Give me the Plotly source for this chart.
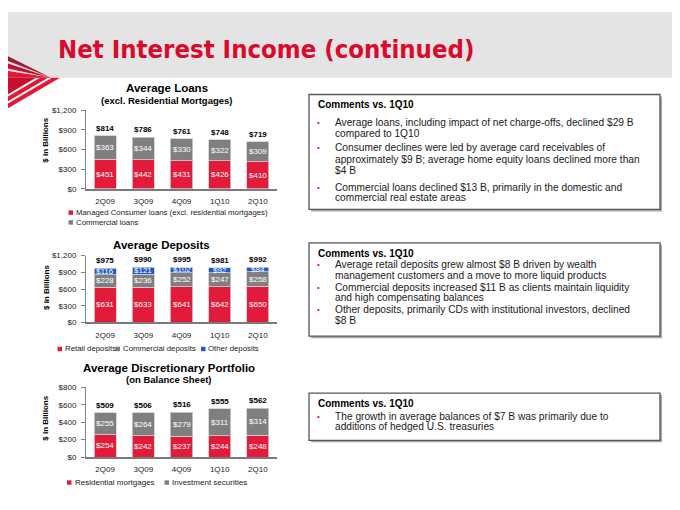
import plotly.graph_objects as go

# ---------------- data ----------------
quarters = ["2Q09", "3Q09", "4Q09", "1Q10", "2Q10"]

loans_consumer = [451, 442, 431, 426, 410]
loans_commercial = [363, 344, 330, 322, 309]
loans_total = [814, 786, 761, 748, 719]

dep_retail = [631, 633, 641, 642, 650]
dep_commercial = [228, 236, 252, 247, 258]
dep_other = [116, 121, 102, 92, 84]
dep_total = [975, 990, 995, 981, 992]

port_resid = [254, 242, 237, 244, 248]
port_invest = [255, 264, 279, 311, 314]
port_total = [509, 506, 516, 555, 562]

ticks_1200 = [0, 300, 600, 900, 1200]
ticklabels_1200 = ["$0", "$300", "$600", "$900", "$1,200"]
ticks_800 = [0, 200, 400, 600, 800]
ticklabels_800 = ["$0", "$200", "$400", "$600", "$800"]

loans_series = ["Managed Consumer loans (excl. residential mortgages)", "Commercial loans"]
dep_series = ["Retail deposits", "Commercial deposits", "Other deposits"]
port_series = ["Residential mortgages", "Investment securities"]

comments_1 = [
    ["Average loans, including impact of net charge-offs, declined $29 B", "compared to 1Q10"],
    ["Consumer declines were led by average card receivables of",
     "approximately $9 B; average home equity loans declined more than", "$4 B"],
    ["Commercial loans declined $13 B, primarily in the domestic and", "commercial real estate areas"],
]
comments_2 = [
    ["Average retail deposits grew almost $8 B driven by wealth",
     "management customers and a move to more liquid products"],
    ["Commercial deposits increased $11 B as clients maintain liquidity", "and high compensating balances"],
    ["Other deposits, primarily CDs with institutional investors, declined", "$8 B"],
]
comments_3 = [
    ["The growth in average balances of $7 B was primarily due to", "additions of hedged U.S. treasuries"],
]

# ---------------- styling ----------------
W, H = 680, 510
FONT = "Liberation Sans, Arial, sans-serif"
RED = "#E31B3B"
GRAY = "#7F7F7F"
BLUE = "#1E5BC8"
TITLE_RED = "#DA0A2E"


def px(x):
    return x / W


def py(y):
    return 1 - y / H


fig = go.Figure()
annotations = []
shapes = []


def add_stack(series_list, colors, xa, ya):
    base = [0] * len(quarters)
    for vals, color in zip(series_list, colors):
        fig.add_trace(go.Bar(
            x=quarters, y=vals, xaxis=xa, yaxis=ya, width=0.58,
            marker=dict(color=color, line=dict(color="#D0D0D0", width=0.8)),
            showlegend=False, hoverinfo="skip"))
        for q, b, v in zip(quarters, base, vals):
            annotations.append(dict(text=f"${v}", x=q, y=b + v / 2, xref=xa, yref=ya,
                                    xanchor="center", yanchor="middle", showarrow=False,
                                    font=dict(size=8, color="white", family=FONT)))
        base = [b + v for b, v in zip(base, vals)]


add_stack([loans_consumer, loans_commercial], [RED, GRAY], "x", "y")
add_stack([dep_retail, dep_commercial, dep_other], [RED, GRAY, BLUE], "x2", "y2")
add_stack([port_resid, port_invest], [RED, GRAY], "x3", "y3")

xdom = [px(78), px(269)]
ydoms = [[py(180), py(100)], [py(316), py(248)], [py(453), py(382)]]

layout_axes = {}
for i, (yd, tv, tt, rng) in enumerate([
        (ydoms[0], ticks_1200, ticklabels_1200, [0, 1200]),
        (ydoms[1], ticks_1200, ticklabels_1200, [0, 1200]),
        (ydoms[2], ticks_800, ticklabels_800, [0, 800])]):
    sfx = "" if i == 0 else str(i + 1)
    layout_axes["xaxis" + sfx] = dict(
        domain=xdom, anchor="y" + sfx, range=[-0.5, 4.5], showline=True,
        linecolor="#7A7A7A", linewidth=1.5, ticks="", showgrid=False, zeroline=False,
        tickfont=dict(size=8, family=FONT, color="#1A1A1A"), ticklabelstandoff=4,
        fixedrange=True)
    layout_axes["yaxis" + sfx] = dict(
        domain=yd, anchor="x" + sfx, range=rng, showline=True, linecolor="#808080",
        linewidth=1, ticks="outside", ticklen=4, tickcolor="#808080",
        tickvals=tv, ticktext=tt, showgrid=False, zeroline=False,
        tickfont=dict(size=8, family=FONT, color="#1A1A1A"), ticklabelstandoff=3,
        fixedrange=True)

# header band
shapes.append(dict(type="rect", xref="paper", yref="paper", x0=0, x1=1, y0=py(67), y1=1,
                   fillcolor="#E4E4E4", line=dict(width=0), layer="below"))


def poly(points, color):
    path = "M " + " L ".join(f"{px(x):.5f},{py(y):.5f}" for x, y in points) + " Z"
    shapes.append(dict(type="path", xref="paper", yref="paper", path=path,
                       fillcolor=color, line=dict(width=0), layer="above"))


# logo (decorative stripes)
poly([(0, 45), (0, 50), (42, 66.5)], "#9E1B32")
poly([(0, 52.5), (0, 57.5), (43, 67)], "#C0122F")
poly([(0, 60), (0, 67), (44, 67)], "#E31837")
k = 31 / 52
poly([(52, 67), (44, 67), (0, 67 + 44 * k), (0, 67 + 52 * k)], "#E31837")
poly([(40, 67), (32, 67), (0, 67 + 32 * k), (0, 67 + 40 * k)], "#E31837")
poly([(28, 67), (0, 67), (0, 67 + 28 * k)], "#C8102E")

annotations.append(dict(text="<b>Net Interest Income (continued)</b>", x=px(48), y=py(38),
                        xref="paper", yref="paper", xanchor="left", yanchor="middle",
                        showarrow=False,
                        font=dict(size=25.5, color=TITLE_RED,
                                  family="DejaVu Sans Condensed, DejaVu Sans, sans-serif")))


def text(t, x, y, size, bold=False, color="#1A1A1A", anchor="center", angle=0):
    annotations.append(dict(text=f"<b>{t}</b>" if bold else t, x=px(x), y=py(y),
                            xref="paper", yref="paper", xanchor=anchor, yanchor="middle",
                            showarrow=False, textangle=angle, align="left",
                            font=dict(size=size, color=color, family=FONT)))


# chart titles
text("Average Loans", 159, 77, 11.5, True, "#000000")
text("(excl. Residential Mortgages)", 158, 90, 9.5, True, "#000000")
text("Average Deposits", 153, 237, 11.5, True, "#000000")
text("Average Discretionary Portfolio", 161, 362, 11.5, True, "#000000")
text("(on Balance Sheet)", 161, 374, 9.5, True, "#000000")

# y-axis titles
text("$ in Billions", 38, 131, 8, True, "#000000", angle=-90)
text("$ in Billions", 38, 281, 8, True, "#000000", angle=-90)
text("$ in Billions", 38, 414, 8, True, "#000000", angle=-90)

# totals above bars
for xa, ya, totals in [("x", "y", loans_total), ("x2", "y2", dep_total), ("x3", "y3", port_total)]:
    for q, t in zip(quarters, totals):
        annotations.append(dict(text=f"<b>${t}</b>", x=q, y=t, xref=xa, yref=ya,
                                xanchor="center", yanchor="bottom", yshift=1,
                                showarrow=False,
                                font=dict(size=8, color="#000000", family=FONT)))


# legends
def legend_square(color, x, y):
    shapes.append(dict(type="rect", xref="paper", yref="paper", x0=px(x), x1=px(x + 4.5),
                       y0=py(y + 2.25), y1=py(y - 2.25), fillcolor=color, line=dict(width=0)))


legend_square(RED, 60.5, 204.2)
legend_square(GRAY, 60.5, 214.2)
text("<br>".join(loans_series), 66, 209.2, 7.8, False, "#1A1A1A", anchor="left")

legend_square(RED, 49.5, 343)
text(dep_series[0], 54.5, 343, 7.8, False, "#1A1A1A", anchor="left")
legend_square(GRAY, 107.5, 343)
text(dep_series[1], 112.5, 343, 7.8, False, "#1A1A1A", anchor="left")
legend_square(BLUE, 193, 343)
text(dep_series[2], 198, 343, 7.8, False, "#1A1A1A", anchor="left")

legend_square(RED, 59, 479)
text(port_series[0], 64.5, 479, 8, False, "#1A1A1A", anchor="left")
legend_square(GRAY, 156.5, 479)
text(port_series[1], 162, 479, 8, False, "#1A1A1A", anchor="left")


# comment boxes
def comment_box(top, bottom, header_y, bullets, line_ys):
    shapes.append(dict(type="rect", xref="paper", yref="paper", x0=px(303), x1=px(654),
                       y0=py(bottom + 2), y1=py(top + 2), fillcolor="#A8A8A8", line=dict(width=0)))
    shapes.append(dict(type="rect", xref="paper", yref="paper", x0=px(301), x1=px(652),
                       y0=py(bottom), y1=py(top), fillcolor="white",
                       line=dict(color="#555555", width=1.3)))
    text("Comments vs. 1Q10", 308, header_y, 10, True, "#000000", anchor="left")
    idx = 0
    for b in bullets:
        for j, line in enumerate(b):
            y = line_ys[idx]
            if j == 0:
                text("•", 310, y, 8, False, "#E31837")
            text(line, 325, y, 10.2, False, "#1A1A1A", anchor="left")
            idx += 1


comment_box(84, 201, 94.3, comments_1, [112.3, 123.3, 138.3, 150.3, 161.7, 178.3, 189.3])
comment_box(235, 330, 245.7, comments_2, [257.3, 268, 280, 290.5, 303.3, 314])
comment_box(388, 436, 399, comments_3, [411.7, 422])

fig.update_layout(
    width=W, height=H, margin=dict(l=0, r=0, t=0, b=0),
    paper_bgcolor="white", plot_bgcolor="rgba(0,0,0,0)",
    barmode="stack", showlegend=False,
    annotations=annotations, shapes=shapes,
    font=dict(family=FONT),
    **layout_axes)

fig.write_html("out.html", config=dict(displayModeBar=False))
